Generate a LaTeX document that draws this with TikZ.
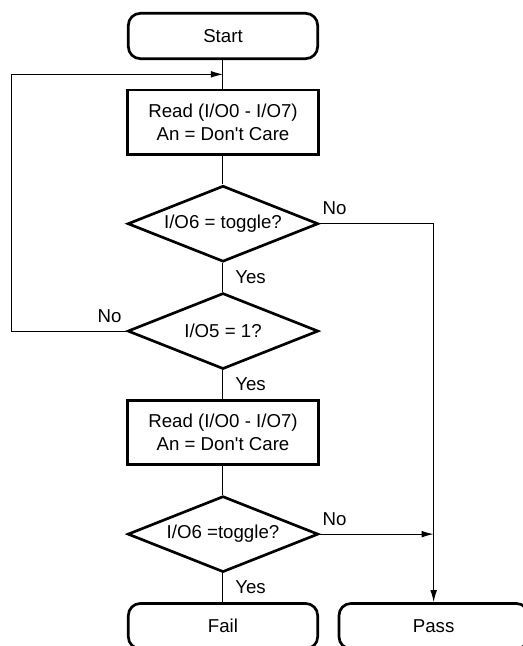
\documentclass[tikz,border=0pt]{standalone}
\usepackage{fontspec}
\setmainfont{Liberation Sans}
\usetikzlibrary{shapes.geometric,positioning,calc,arrows.meta}

\begin{document}
\begin{tikzpicture}[font=\fontsize{14}{17}\selectfont]
\tikzstyle{term}=[rectangle, rounded corners=9pt, draw, line width=2pt, minimum width=142pt, minimum height=34pt, node distance=21.5pt]
\tikzstyle{proc}=[rectangle, draw, line width=2pt, minimum width=143.5pt, minimum height=48.3pt, align=center, node distance=21.5pt]
\tikzstyle{test}=[diamond, aspect=2.5, draw, line width=2pt, minimum width=143pt, minimum height=57pt, inner sep=0pt, node distance=21.5pt]
\tikzstyle{line}=[line width=0.75pt]
\tikzstyle{connect}=[-{Latex[length=9pt,width=5pt]}, line width=0.75pt]
\tikzstyle{tag}=[inner sep=2pt]

    % the boxes of the flow
  \node[term] (start) {Start};
  \node[proc] (read1) [below=of start] {Read (I/O0 - I/O7)\\An = Don\textquotesingle t Care};
  \node[test] (d1) [below=of read1] {I/O6 = toggle?};
  \node[test] (d2) [below=of d1] {I/O5 = 1?};
  \node[proc] (read2) [below=of d2] {Read (I/O0 - I/O7)\\An = Don\textquotesingle t Care};
  \node[test] (d3) [below=of read2] {I/O6 =toggle?};
  \node[term] (fail) [below=of d3] {Fail};
  \node[term] (pass) [right=14pt of fail] {Pass};

    % points where lines meet
  \coordinate (join) at ($(start.south)!0.5!(read1.north)$);
  \coordinate[left=86pt of d2.west] (back);

    % the lines
  \path (start) edge [line] (read1)
        (read1) edge [line] (d1)
        (d1) edge [line] (d2)
        (d2) edge [line] (read2)
        (read2) edge [line] (d3)
        (d3) edge [line] (fail);
  \draw[connect] (d2.west) -- (back) |- (join);
  \draw[connect] (d1.east) -| (pass.north);
  \draw[connect] (d3.east) -- (d3.east -| pass.north);

    % the answers
  \node[tag, anchor=south west, yshift=4.5pt] (no1) at (d1.east) {No};
  \node[tag, anchor=north west, xshift=7pt, yshift=-3.5pt] (yes1) at (d1.south) {Yes};
  \node[tag, anchor=south east, xshift=-1.4pt, yshift=4pt] (no2) at (d2.west) {No};
  \node[tag, anchor=north west, xshift=7pt, yshift=-3.5pt] (yes2) at (d2.south) {Yes};
  \node[tag, anchor=south west, yshift=4.5pt] (no3) at (d3.east) {No};
  \node[tag, anchor=north west, xshift=7pt, yshift=-3.5pt] (yes3) at (d3.south) {Yes};

  \pgfresetboundingbox
  \useasboundingbox ([xshift=-167.25pt, yshift=27pt]start.center) rectangle ++(392.25pt,-484.5pt);
\end{tikzpicture}
\end{document}
